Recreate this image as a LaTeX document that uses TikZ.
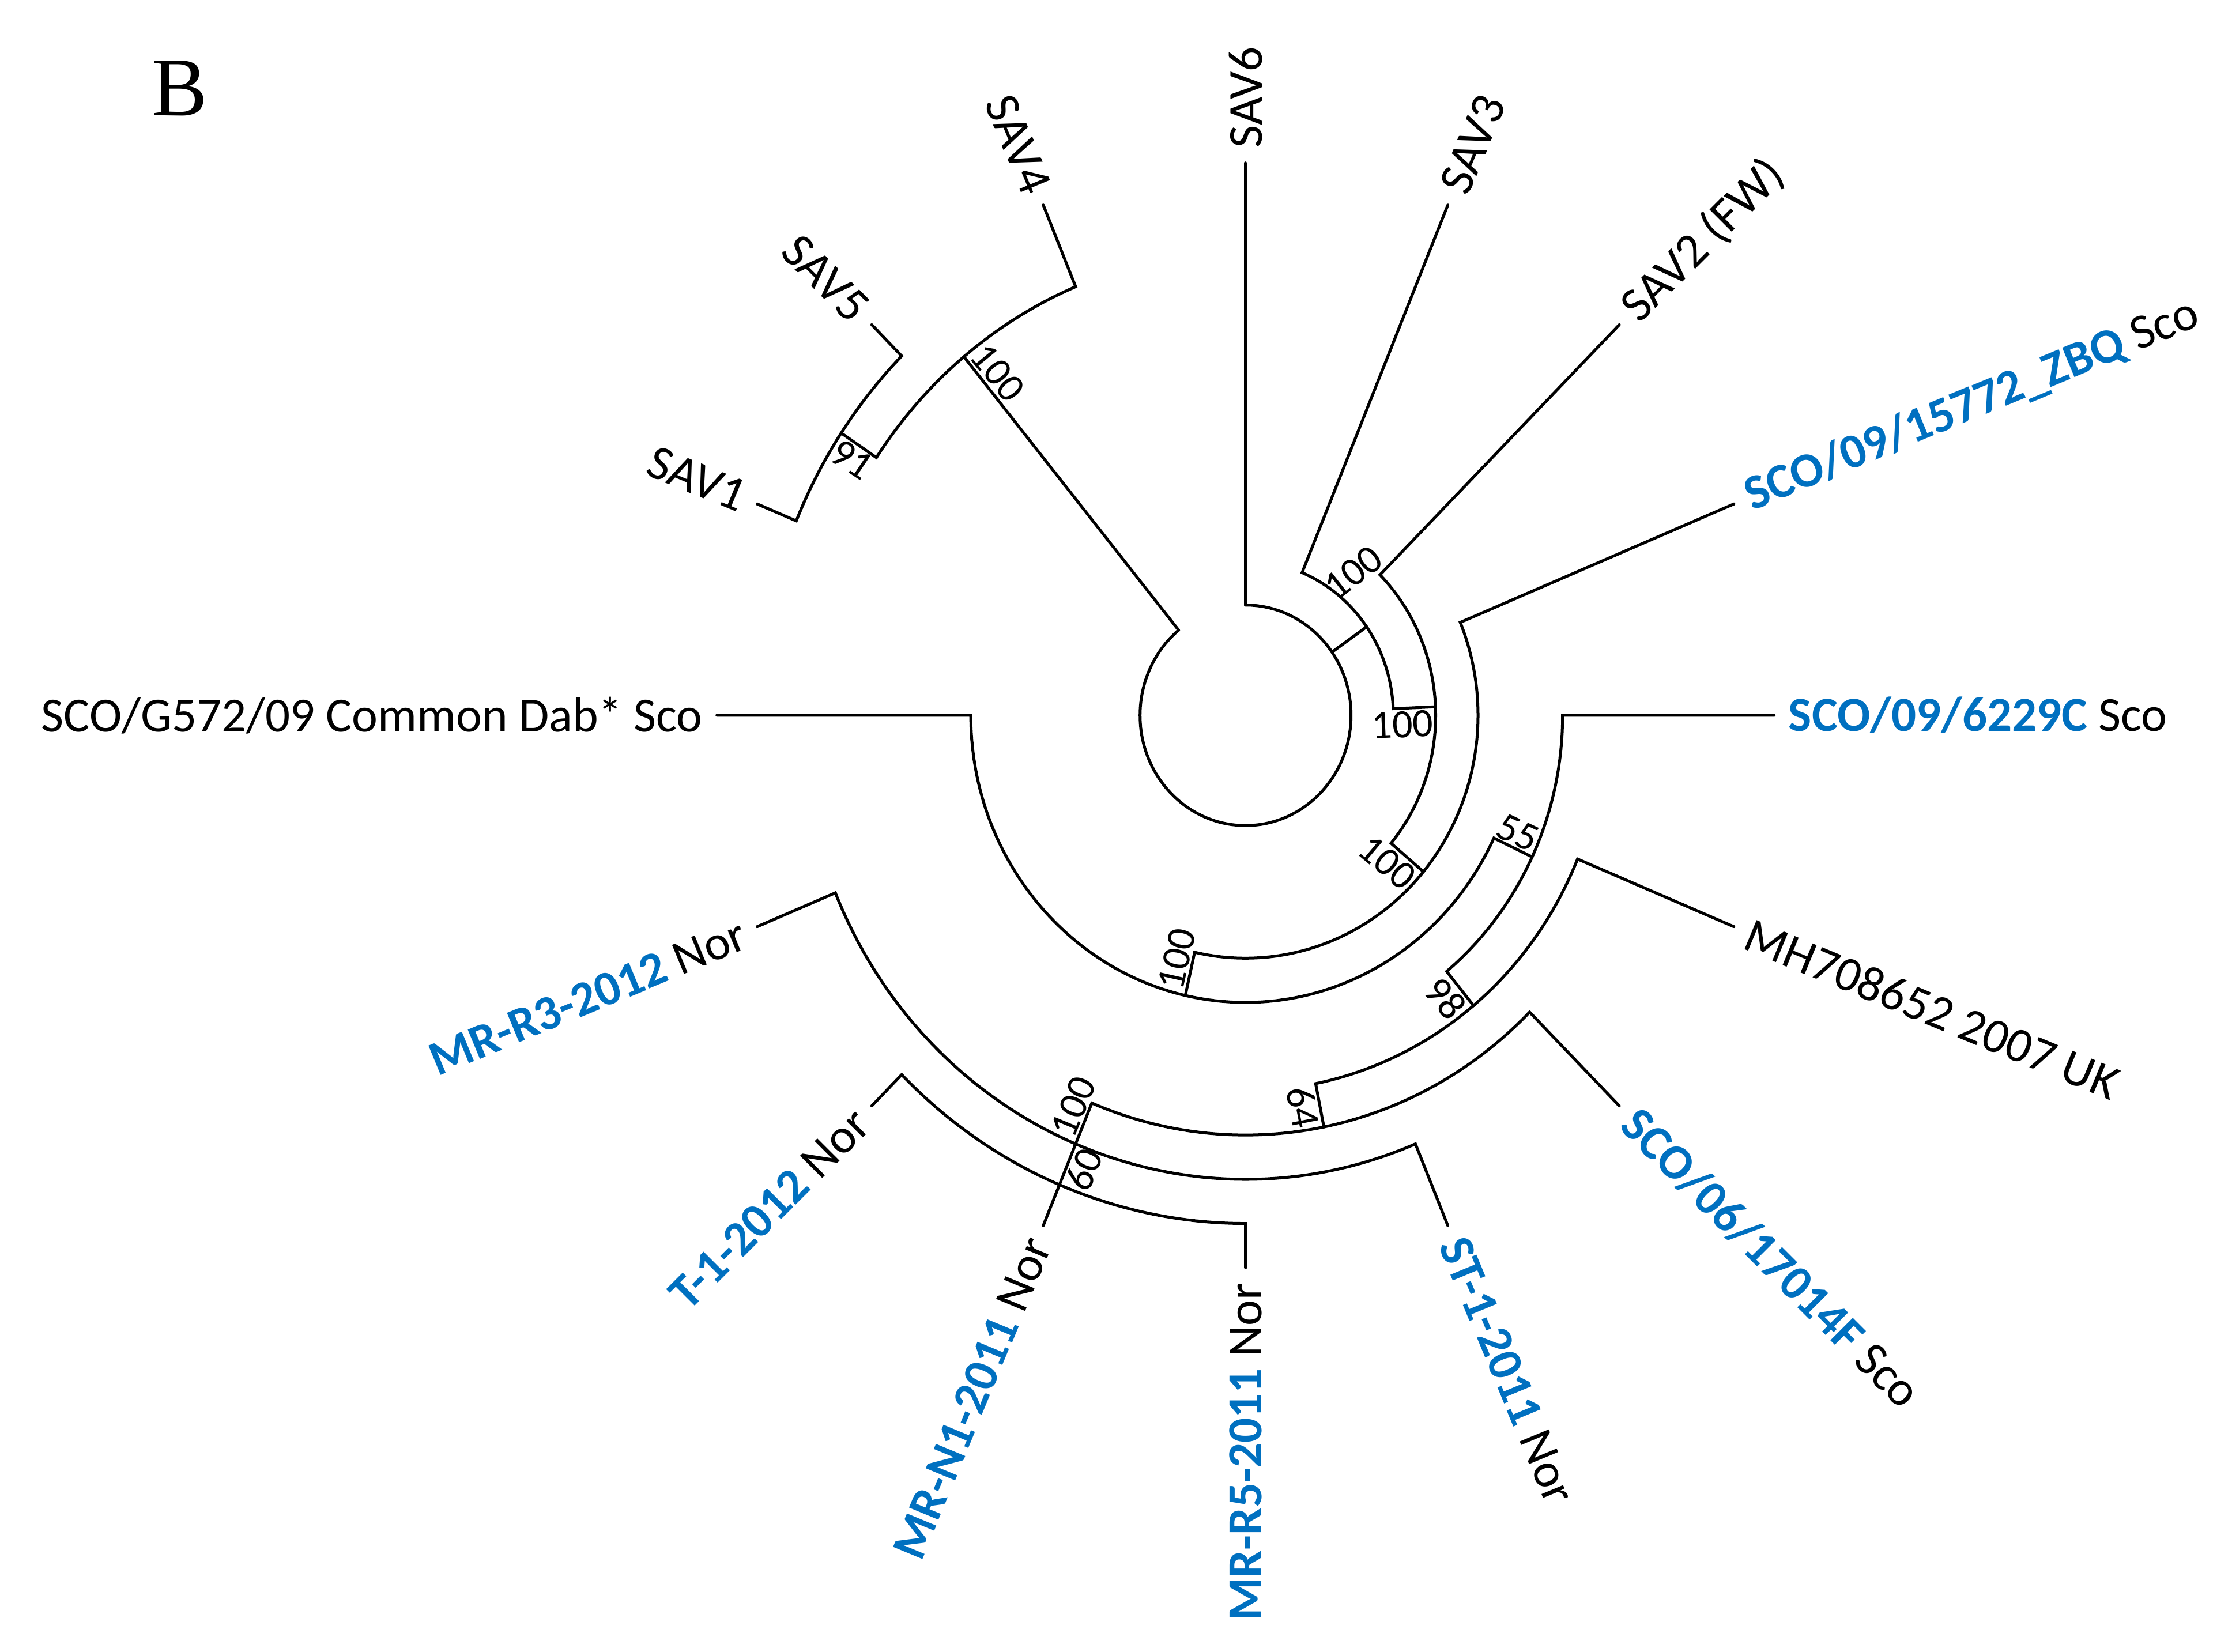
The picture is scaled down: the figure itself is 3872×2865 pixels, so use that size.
\documentclass[tikz,border=0pt]{standalone}
\usepackage{fontspec}
\setmainfont{Carlito}
\newfontfamily\serifB{Liberation Serif}
\definecolor{sblue}{RGB}{0,112,192}
\begin{document}
\begin{tikzpicture}[x=1pt,y=1pt,
  br/.style={line width=5pt,line cap=round,line join=miter},
  leaf/.style={inner sep=0pt,font=\fontsize{85}{100}\selectfont},
  boot/.style={inner sep=5pt,font=\fontsize{70}{84}\selectfont}]
\useasboundingbox (0,0) rectangle (3872,2865);
\node[font=\serifB\fontsize{145}{165}\selectfont] (panel) at (312,2712) {B};
\def\T{917}
\def\G{942}
\begin{scope}[shift={(2160.7,1624)},yscale=1.045]
% radii
\def\Ra{183}\def\Rb{256.4}\def\Rc{329.8}\def\Rd{403.2}\def\Re{476.6}
\def\Rf{550}\def\Rg{623.4}\def\Rh{696.8}\def\Ri{770.2}\def\Rj{843.6}
% node angles
\def\aA{129.375}\def\aN{146.25}
\def\ab{34.98}\def\ac{2.461}\def\ad{-40.078}\def\ae{-102.656}
\def\af{-25.3125}\def\ag{-50.625}\def\ah{-78.75}
% root
\draw[br] (90:\Ra) arc[start angle=90,end angle=-230.625,radius=\Ra];
\draw[br] (90:\Ra) -- (90:\T);
% clade A
\draw[br] (\aA:\Ra) -- (\aA:\Ri);
\draw[br] (112.5:\T) -- (112.5:\Ri) arc[start angle=112.5,end angle=\aN,radius=\Ri] -- (\aN:\Rj);
\draw[br] (135:\T) -- (135:\Rj) arc[start angle=135,end angle=157.5,radius=\Rj] -- (157.5:\T);
% clade B
\draw[br] (\ab:\Ra) -- (\ab:\Rb);
\draw[br] (67.5:\T) -- (67.5:\Rb) arc[start angle=67.5,end angle=\ac,radius=\Rb] -- (\ac:\Rc);
\draw[br] (45:\T) -- (45:\Rc) arc[start angle=45,end angle=\ad,radius=\Rc] -- (\ad:\Rd);
\draw[br] (22.5:\T) -- (22.5:\Rd) arc[start angle=22.5,end angle=\ae,radius=\Rd] -- (\ae:\Re);
\draw[br] (180:\T) -- (-180:\Re) arc[start angle=-180,end angle=\af,radius=\Re] -- (\af:\Rf);
\draw[br] (0:\T) -- (0:\Rf) arc[start angle=0,end angle=\ag,radius=\Rf] -- (\ag:\Rg);
\draw[br] (-22.5:\T) -- (-22.5:\Rg) arc[start angle=-22.5,end angle=\ah,radius=\Rg] -- (\ah:\Rh);
\draw[br] (-45:\T) -- (-45:\Rh) arc[start angle=-45,end angle=-112.5,radius=\Rh] -- (-112.5:\Ri);
\draw[br] (-67.5:\T) -- (-67.5:\Ri) arc[start angle=-67.5,end angle=-157.5,radius=\Ri] -- (-157.5:\T);
\draw[br] (-112.5:\Ri) -- (-112.5:\T);
\draw[br] (-90:\T) -- (-90:\Rj) arc[start angle=-90,end angle=-135,radius=\Rj] -- (-135:\T);
% bootstrap labels
\node[boot,anchor=north east,rotate=\ac] (b1) at (\ac:\Rc) {100};
\node[boot,anchor=north east,rotate=\ad] (b2) at (\ad:\Rd) {100};
\node[boot,anchor=south west,rotate=77.344] (b3) at (\ae:\Re) {100};
\node[boot,anchor=south east,rotate=\af] (b4) at (\af:\Rf) {55};
\node[boot,anchor=north east,rotate=\ag] (b5) at (\ag:\Rg) {98};
\node[boot,anchor=north east,rotate=\ah] (b6) at (\ah:\Rh) {64};
\node[boot,anchor=south west,rotate=67.5] (b7) at (-112.5:\Ri) {100};
\node[boot,anchor=north west,rotate=67.5] (b8) at (-112.5:\Rj) {60};
\node[boot,anchor=south west,rotate=-50.625] (b9) at (\aA:\Ri) {100};
\node[boot,anchor=north west,rotate=-33.75] (b10) at (\aN:\Rj) {91};
\node[boot,inner sep=0pt,rotate=38] (b11) at (51.7:302) {100};
% leaf labels
\node[leaf,anchor=west,rotate=90] (SAV6) at (90:\G) {SAV6};
\node[leaf,anchor=west,rotate=67.5] (SAV3) at (67.5:\G) {SAV3};
\node[leaf,anchor=west,rotate=45] (SAV2) at (45:\G) {SAV2 (FW)};
\node[leaf,anchor=west,rotate=22.5] (ZBQ) at (22.5:\G) {{\bfseries\color{sblue}SCO/09/15772\_ZBQ} Sco};
\node[leaf,anchor=west,rotate=0] (C6229) at (0:\G) {{\bfseries\color{sblue}SCO/09/6229C} Sco};
\node[leaf,anchor=west,rotate=-22.5] (MH) at (-22.5:\G) {MH708652 2007 UK};
\node[leaf,anchor=west,rotate=-45] (F17014) at (-45:\G) {{\bfseries\color{sblue}SCO/06/17014F} Sco};
\node[leaf,anchor=west,rotate=-67.5] (ST1) at (-67.5:\G) {{\bfseries\color{sblue}ST-1-2011} Nor};
\node[leaf,anchor=east,rotate=90] (MRR5) at (-90:\G) {{\bfseries\color{sblue}MR-R5-2011} Nor};
\node[leaf,anchor=east,rotate=67.5] (MRN1) at (-112.5:\G) {{\bfseries\color{sblue}MR-N1-2011} Nor};
\node[leaf,anchor=east,rotate=45] (T1) at (-135:\G) {{\bfseries\color{sblue}T-1-2012} Nor};
\node[leaf,anchor=east,rotate=22.5] (MRR3) at (-157.5:\G) {{\bfseries\color{sblue}MR-R3-2012} Nor};
\node[leaf,anchor=east] (G572) at (180:\G) {SCO/G572/09 Common Dab* Sco};
\node[leaf,anchor=east,rotate=-22.5] (SAV1) at (157.5:\G) {SAV1};
\node[leaf,anchor=east,rotate=-45] (SAV5) at (135:\G) {SAV5};
\node[leaf,anchor=east,rotate=-67.5] (SAV4) at (112.5:\G) {SAV4};
\end{scope}
\end{tikzpicture}
\end{document}
